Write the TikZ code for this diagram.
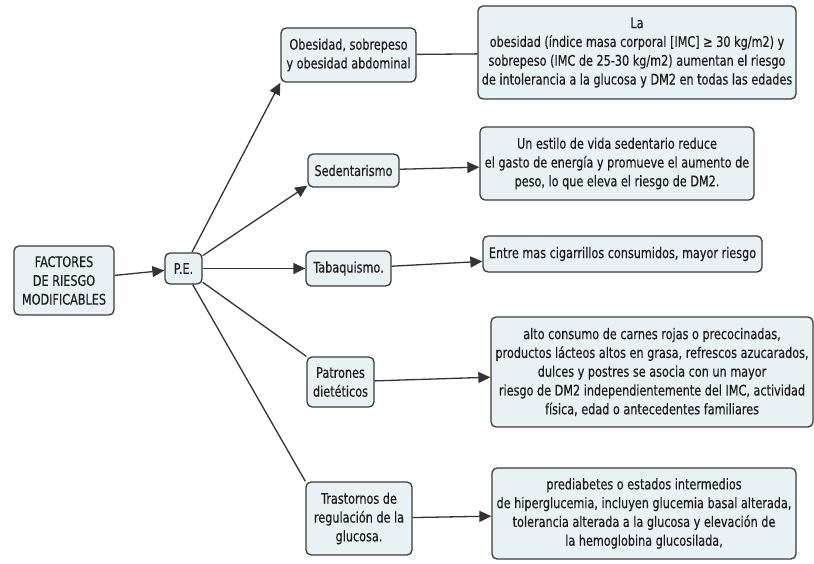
\documentclass[tikz,border=0pt]{standalone}
\usepackage{fontspec}
\setmainfont{DejaVu Sans}[FakeStretch=0.77,FakeBold=0.35]
\usetikzlibrary{arrows.meta,calc}
\definecolor{boxfill}{HTML}{E9F1F4}
\definecolor{boxline}{HTML}{3A3A3A}
\definecolor{conn}{HTML}{333333}
\definecolor{txt}{HTML}{1E1E1E}
\begin{document}
\begin{tikzpicture}[x=1pt,y=-1pt,
  box/.style={draw=boxline, line width=1.3pt, fill=boxfill, rounded corners=5pt,
    align=center, inner sep=0pt, text=txt, font=\fontsize{14.6}{18.8}\selectfont},
  link/.style={draw=conn, line width=1.3pt},
  arr/.style={link, -{Triangle[length=12pt,width=11pt]}}]
\useasboundingbox (0,0) rectangle (814,564);
\node[box, minimum width=100pt, minimum height=69pt] (fact) at (64,280.5) {FACTORES\\DE RIESGO\\MODIFICABLES};
\node[box, minimum width=37pt, minimum height=31pt] (pe) at (183.5,268.5) {P.E.};
\node[box, minimum width=135pt, minimum height=54pt] (obe) at (348.5,55) {Obesidad, sobrepeso\\y obesidad abdominal};
\node[box, minimum width=91pt, minimum height=33pt] (sed) at (353.5,170.5) {Sedentarismo};
\node[box, minimum width=85pt, minimum height=35pt] (tab) at (348.5,268.5) {Tabaquismo.};
\node[box, minimum width=67pt, minimum height=50pt] (pat) at (340.5,382) {Patrones\\dietéticos};
\node[box, minimum width=106pt, minimum height=73pt] (tra) at (359,518.5) {Trastornos de\\regulación de la\\glucosa.};
\node[box, minimum width=318pt, minimum height=93pt] (r1) at (637,52.5) {La\\obesidad (índice masa corporal [IMC] ≥ 30 kg/m2) y\\sobrepeso (IMC de 25-30 kg/m2) aumentan el riesgo\\de intolerancia a la glucosa y DM2 en todas las edades};
\node[box, minimum width=274pt, minimum height=73pt] (r2) at (617,163.5) {Un estilo de vida sedentario reduce\\el gasto de energía y promueve el aumento de\\peso, lo que eleva el riesgo de DM2.};
\node[box, minimum width=279pt, minimum height=36pt] (r3) at (622.5,254) {Entre mas cigarrillos consumidos, mayor riesgo};
\node[box, minimum width=322pt, minimum height=110pt] (r4) at (652,372) {alto consumo de carnes rojas o precocinadas,\\productos lácteos altos en grasa, refrescos azucarados,\\dulces y postres se asocia con un mayor\\riesgo de DM2 independientemente del IMC, actividad\\física, edad o antecedentes familiares};
\node[box, minimum width=304pt, minimum height=91pt] (r5) at (644,513.5) {prediabetes o estados intermedios\\de hiperglucemia, incluyen glucemia basal alterada,\\tolerancia alterada a la glucosa y elevación de\\la hemoglobina glucosilada,};
\coordinate (sedend) at ($(sed.south west)+(0,-2)$);
\draw[arr] (fact) -- (pe);
\draw[arr] (pe) -- (obe.south west);
\draw[arr] (pe) -- (sedend);
\draw[arr] (pe) -- (tab);
\draw[link] (pe) -- (pat.north west);
\draw[link] (pe) -- (tra.north west);
\draw[link] (obe) -- (r1);
\draw[arr] (sed) -- (r2);
\draw[arr] (tab) -- (r3);
\draw[arr] (pat) -- (r4);
\draw[arr] (tra) -- (r5);
\end{tikzpicture}
\end{document}
